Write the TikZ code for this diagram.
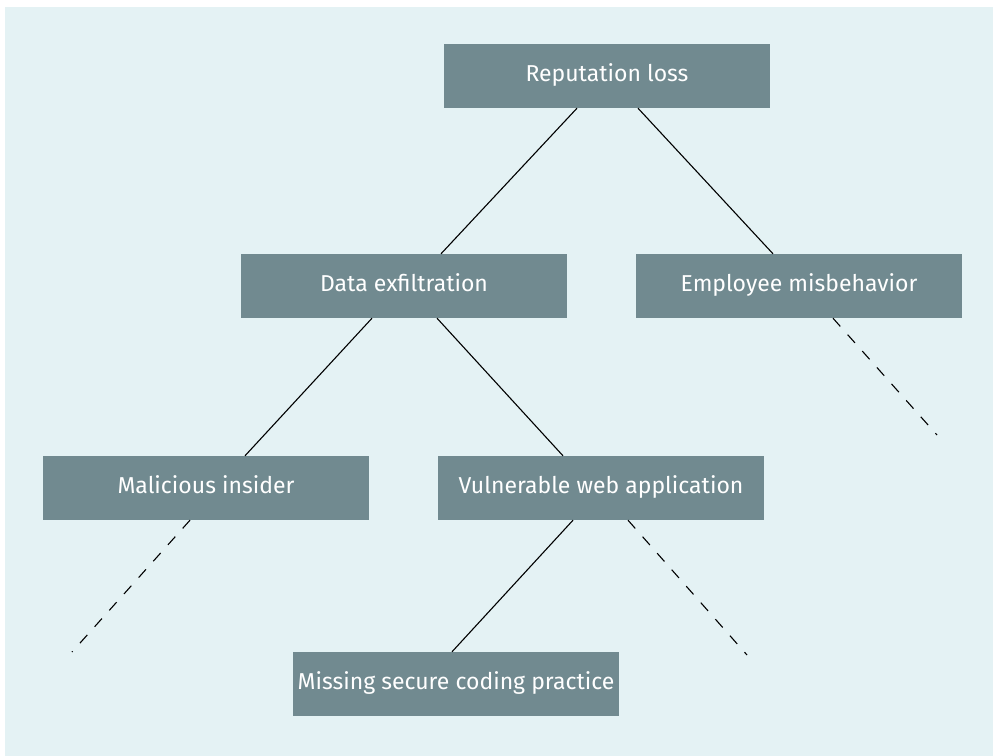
\documentclass[tikz,border=0pt]{standalone}
\usepackage{fontspec}
\setmainfont{Fira Sans}
\usepackage{tikz}
\usetikzlibrary{positioning}
\definecolor{bgblue}{HTML}{E4F2F4}
\definecolor{boxgray}{HTML}{718A90}

\tikzset{
  risk/.style={draw=none, fill=boxgray, text=white, minimum width=326bp,
    minimum height=64bp, inner sep=0pt, text height=16bp, text depth=5bp,
    font=\fontsize{23bp}{27bp}\selectfont},
  link/.style={draw=black, line width=1.1bp},
  open/.style={link, dash pattern=on 11bp off 11bp}
}

\begin{document}
\begin{tikzpicture}[x=1bp, y=-1bp]
		\useasboundingbox (0,0) rectangle (993,756);
		\fill[bgblue] (5,7) rectangle (993,756);
		
		\node[risk] (rep) at (607,76) {Reputation loss};
		\node[risk] (data) at (404,286) {Data exfiltration};
		\node[risk] (empl) at (799,286) {Employee misbehavior};
		\node[risk] (insider) at (206,488) {Malicious insider};
		\node[risk] (webapp) at (601,488) {Vulnerable web application};
		\node[risk] (coding) at (456,684) {Missing secure coding practice};
		
		\coordinate (emplend) at (937,435);
		\coordinate (insiderend) at (72,652);
		\coordinate (webappend) at (747,655);
		
		\draw[link] ([xshift=-30bp]rep.south) -- ([xshift=37bp]data.north);
		\draw[link] ([xshift=31bp]rep.south) -- ([xshift=-26bp]empl.north);
		\draw[link] ([xshift=-32bp]data.south) -- ([xshift=39bp]insider.north);
		\draw[link] ([xshift=33bp]data.south) -- ([xshift=-38bp]webapp.north);
		\draw[link] ([xshift=-28bp]webapp.south) -- ([xshift=-4bp]coding.north);
		\draw[open] ([xshift=34bp]empl.south) -- (emplend);
		\draw[open] ([xshift=-16bp]insider.south) -- (insiderend);
		\draw[open] ([xshift=27bp]webapp.south) -- (webappend);
	\end{tikzpicture}
\end{document}
